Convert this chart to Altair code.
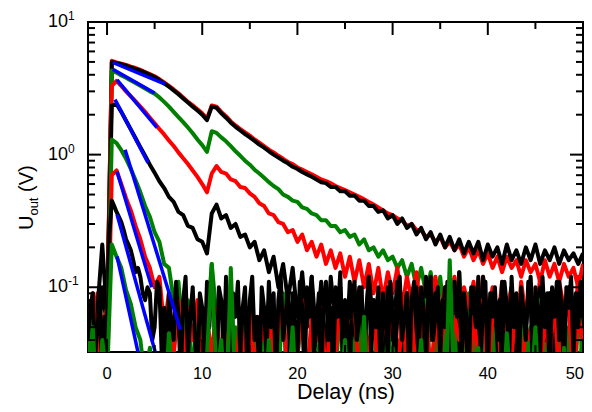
import altair as alt
import pandas as pd

# time grids (ns): 0.5 ns sampling, and 0.25 ns for the lowest black trace
delay = [round(-2 + 0.5 * i, 2) for i in range(105)]
delay_fine = [round(-2 + 0.25 * j, 2) for j in range(209)]

# curves (V), from top (A) to bottom (I)
A_red = [0.07, 0.05, 0.09, 0.04, 0.06, 5.1, 4.95, 4.85, 4.75, 4.6,
         4.5, 4.35, 4.2, 4.05, 3.9, 3.7, 3.5, 3.3, 3.1, 2.9,
         2.7, 2.5, 2.35, 2.2, 2.05, 1.87, 2.35, 2.3, 2.1, 1.95,
         1.78, 1.66, 1.56, 1.47, 1.39, 1.3, 1.23, 1.16, 1.09, 1.04,
         0.98, 0.93, 0.88, 0.85, 0.8, 0.77, 0.74, 0.71, 0.68, 0.65,
         0.63, 0.61, 0.58, 0.56, 0.54, 0.52, 0.5, 0.48, 0.46, 0.44,
         0.42, 0.4, 0.38, 0.36, 0.35, 0.33, 0.32, 0.29, 0.3, 0.27,
         0.27, 0.24, 0.25, 0.22, 0.24, 0.2, 0.22, 0.19, 0.21, 0.17,
         0.2, 0.16, 0.19, 0.15, 0.18, 0.14, 0.17, 0.13, 0.17, 0.14,
         0.16, 0.12, 0.16, 0.13, 0.15, 0.11, 0.16, 0.12, 0.15, 0.11,
         0.15, 0.12, 0.14, 0.1, 0.15]
B_black = [0.05, 0.08, 0.03, 0.1, 0.05, 5.0, 4.9, 4.8, 4.68, 4.55,
           4.43, 4.3, 4.15, 4.0, 3.85, 3.65, 3.45, 3.25, 3.05, 2.85,
           2.65, 2.47, 2.3, 2.15, 2.0, 1.82, 2.3, 2.25, 2.05, 1.9,
           1.74, 1.62, 1.52, 1.43, 1.35, 1.27, 1.19, 1.13, 1.06, 1.0,
           0.95, 0.9, 0.86, 0.81, 0.78, 0.74, 0.71, 0.68, 0.65, 0.62,
           0.61, 0.57, 0.57, 0.53, 0.53, 0.49, 0.49, 0.45, 0.45, 0.41,
           0.41, 0.37, 0.38, 0.33, 0.35, 0.3, 0.33, 0.28, 0.3, 0.25,
           0.28, 0.23, 0.26, 0.21, 0.25, 0.2, 0.24, 0.19, 0.23, 0.18,
           0.22, 0.18, 0.22, 0.16, 0.21, 0.17, 0.2, 0.15, 0.21, 0.16,
           0.19, 0.15, 0.2, 0.16, 0.21, 0.15, 0.19, 0.16, 0.2, 0.15,
           0.19, 0.16, 0.18, 0.15, 0.18]
C_green = [0.04, 0.06, 0.02, 0.05, 0.03, 4.3, 4.15, 3.95, 3.8, 3.62,
           3.47, 3.3, 3.15, 3.0, 2.88, 2.7, 2.5, 2.3, 2.1, 1.92,
           1.76, 1.6, 1.45, 1.3, 1.18, 1.05, 1.5, 1.46, 1.35, 1.26,
           1.16, 1.06, 0.98, 0.9, 0.84, 0.77, 0.72, 0.67, 0.62, 0.58,
           0.55, 0.5, 0.48, 0.45, 0.44, 0.4, 0.39, 0.36, 0.35, 0.32,
           0.32, 0.29, 0.29, 0.26, 0.27, 0.24, 0.25, 0.21, 0.23, 0.19,
           0.2, 0.17, 0.19, 0.16, 0.17, 0.14, 0.16, 0.12, 0.15, 0.1,
           0.14, 0.09, 0.13, 0.07, 0.12, 0.05, 0.11, 0.04, 0.13, 0.03,
           0.09, 0.02, 0.08, 0.03, 0.06, 0.02, 0.07, 0.015, 0.05, 0.02,
           0.06, 0.01, 0.04, 0.02, 0.07, 0.01, 0.05, 0.02, 0.04, 0.01,
           0.06, 0.02, 0.05, 0.01, 0.07]
D_red = [0.06, 0.03, 0.08, 0.05, 0.07, 3.3, 3.6, 3.3, 3.0, 2.75,
         2.52, 2.3, 2.1, 1.9, 1.72, 1.56, 1.42, 1.28, 1.16, 1.04,
         0.94, 0.85, 0.76, 0.68, 0.6, 0.52, 0.72, 0.82, 0.74, 0.72,
         0.65, 0.63, 0.57, 0.56, 0.51, 0.48, 0.43, 0.41, 0.36, 0.35,
         0.31, 0.3, 0.26, 0.27, 0.22, 0.25, 0.19, 0.22, 0.17, 0.21,
         0.15, 0.19, 0.14, 0.18, 0.12, 0.17, 0.11, 0.16, 0.1, 0.15,
         0.09, 0.14, 0.08, 0.13, 0.09, 0.14, 0.07, 0.12, 0.08, 0.13,
         0.06, 0.11, 0.08, 0.12, 0.06, 0.1, 0.07, 0.12, 0.05, 0.1,
         0.07, 0.11, 0.05, 0.12, 0.06, 0.1, 0.05, 0.11, 0.07, 0.1,
         0.04, 0.11, 0.06, 0.1, 0.05, 0.12, 0.06, 0.09, 0.05, 0.11,
         0.07, 0.1, 0.04, 0.12, 0.07]
E_black = [0.08, 0.04, 0.07, 0.21, 0.06, 2.35, 2.4, 2.1, 1.8, 1.55,
           1.33, 1.14, 0.98, 0.84, 0.73, 0.63, 0.56, 0.48, 0.44, 0.37,
           0.35, 0.29, 0.28, 0.23, 0.22, 0.18, 0.36, 0.42, 0.33, 0.35,
           0.28, 0.3, 0.24, 0.25, 0.2, 0.22, 0.16, 0.19, 0.13, 0.17,
           0.1, 0.15, 0.08, 0.14, 0.06, 0.13, 0.05, 0.12, 0.04, 0.11,
           0.03, 0.12, 0.05, 0.1, 0.02, 0.11, 0.04, 0.1, 0.03, 0.12,
           0.05, 0.09, 0.02, 0.1, 0.04, 0.11, 0.03, 0.09, 0.05, 0.1,
           0.02, 0.12, 0.04, 0.09, 0.03, 0.1, 0.05, 0.11, 0.02, 0.09,
           0.04, 0.1, 0.03, 0.12, 0.05, 0.09, 0.02, 0.11, 0.04, 0.1,
           0.03, 0.09, 0.05, 0.12, 0.02, 0.1, 0.04, 0.09, 0.03, 0.11,
           0.05, 0.1, 0.02, 0.09, 0.04]
F_green = [0.03, 0.07, 0.02, 0.06, 0.04, 1.3, 1.22, 1.08, 0.93, 0.78,
           0.64, 0.52, 0.41, 0.34, 0.26, 0.22, 0.15, 0.14, 0.08, 0.11,
           0.04, 0.08, 0.02, 0.07, 0.03, 0.05, 0.15, 0.06, 0.02, 0.07,
           0.01, 0.05, 0.03, 0.08, 0.01, 0.04, 0.02, 0.06, 0.01, 0.05,
           0.02, 0.09, 0.01, 0.04, 0.03, 0.07, 0.01, 0.05, 0.02, 0.06,
           0.01, 0.04, 0.02, 0.08, 0.01, 0.05, 0.03, 0.06, 0.01, 0.04,
           0.02, 0.07, 0.01, 0.05, 0.02, 0.04, 0.01, 0.06, 0.03, 0.05,
           0.01, 0.08, 0.02, 0.04, 0.01, 0.06, 0.02, 0.05, 0.01, 0.07,
           0.02, 0.04, 0.01, 0.06, 0.03, 0.05, 0.01, 0.07, 0.02, 0.04,
           0.01, 0.06, 0.02, 0.05, 0.01, 0.08, 0.02, 0.04, 0.01, 0.06,
           0.02, 0.05, 0.01, 0.07, 0.03]
G_red = [0.05, 0.09, 0.03, 0.06, 0.02, 0.7, 0.76, 0.6, 0.47, 0.38,
         0.29, 0.23, 0.17, 0.14, 0.1, 0.12, 0.05, 0.09, 0.03, 0.08,
         0.02, 0.07, 0.04, 0.08, 0.02, 0.06, 0.03, 0.07, 0.02, 0.05,
         0.08, 0.02, 0.06, 0.03, 0.07, 0.02, 0.06, 0.04, 0.08, 0.02,
         0.05, 0.07, 0.02, 0.06, 0.03, 0.08, 0.02, 0.06, 0.04, 0.07,
         0.02, 0.06, 0.03, 0.08, 0.02, 0.05, 0.07, 0.02, 0.06, 0.03,
         0.08, 0.02, 0.06, 0.04, 0.07, 0.02, 0.06, 0.03, 0.08, 0.02,
         0.05, 0.07, 0.02, 0.06, 0.03, 0.08, 0.02, 0.06, 0.04, 0.07,
         0.02, 0.06, 0.03, 0.08, 0.02, 0.06, 0.07, 0.02, 0.06, 0.03,
         0.08, 0.02, 0.05, 0.04, 0.07, 0.02, 0.06, 0.03, 0.08, 0.02,
         0.06, 0.07, 0.02, 0.06, 0.04]
# lowest black trace, 0.25 ns sampling
H_black = [0.04, 0.07, 0.09, 0.03, 0.05, 0.08, 0.02, 0.06, 0.03, 0.25,
           0.45, 0.41, 0.37, 0.34, 0.31, 0.27, 0.23, 0.21, 0.19, 0.16,
           0.13, 0.14, 0.12, 0.09, 0.08, 0.1, 0.09, 0.04, 0.05, 0.11,
           0.1, 0.03, 0.07, 0.02, 0.09, 0.05, 0.04, 0.11, 0.06, 0.02,
           0.08, 0.12, 0.03, 0.06, 0.1, 0.04, 0.02, 0.09, 0.07, 0.03,
           0.11, 0.05, 0.13, 0.06, 0.02, 0.1, 0.08, 0.03, 0.12, 0.05,
           0.02, 0.09, 0.06, 0.11, 0.03, 0.07, 0.1, 0.02, 0.08, 0.12,
           0.04, 0.06, 0.02, 0.1, 0.07, 0.03, 0.11, 0.05, 0.09, 0.02,
           0.08, 0.12, 0.04, 0.06, 0.1, 0.02, 0.09, 0.05, 0.03, 0.11,
           0.07, 0.02, 0.1, 0.06, 0.12, 0.03, 0.05, 0.09, 0.02, 0.08,
           0.11, 0.04, 0.07, 0.02, 0.1, 0.06, 0.13, 0.03, 0.08, 0.05,
           0.02, 0.09, 0.11, 0.04, 0.06, 0.1, 0.02, 0.07, 0.12, 0.03,
           0.08, 0.05, 0.1, 0.02, 0.09, 0.06, 0.03, 0.11, 0.07, 0.02,
           0.1, 0.12, 0.04, 0.06, 0.09, 0.02, 0.08, 0.11, 0.05, 0.03,
           0.1, 0.07, 0.02, 0.09, 0.12, 0.04, 0.06, 0.1, 0.03, 0.08,
           0.05, 0.11, 0.02, 0.07, 0.1, 0.06, 0.13, 0.03, 0.09, 0.04,
           0.02, 0.1, 0.08, 0.05, 0.12, 0.03, 0.07, 0.11, 0.02, 0.09,
           0.06, 0.1, 0.04, 0.08, 0.02, 0.11, 0.07, 0.03, 0.12, 0.05,
           0.09, 0.02, 0.1, 0.06, 0.04, 0.11, 0.08, 0.02, 0.1, 0.07,
           0.03, 0.12, 0.05, 0.09, 0.02, 0.1, 0.06, 0.11, 0.04, 0.08,
           0.02, 0.1, 0.07, 0.12, 0.03, 0.09, 0.05, 0.11, 0.06]
I_green = [0.02, 0.05, 0.01, 0.04, 0.02, 0.21, 0.17, 0.14, 0.095, 0.075,
           0.05, 0.04, 0.02, 0.035, 0.01, 0.03, 0.01, 0.045, 0.015, 0.02,
           0.01, 0.03, 0.015, 0.02, 0.01, 0.03, 0.15, 0.02, 0.04, 0.01,
           0.14, 0.015, 0.03, 0.01, 0.025, 0.015, 0.02, 0.01, 0.04, 0.015,
           0.01, 0.03, 0.015, 0.05, 0.01, 0.02, 0.015, 0.03, 0.01, 0.02,
           0.015, 0.01, 0.03, 0.015, 0.04, 0.01, 0.02, 0.015, 0.06, 0.01,
           0.03, 0.015, 0.02, 0.01, 0.035, 0.015, 0.025, 0.01, 0.02, 0.015,
           0.04, 0.01, 0.03, 0.015, 0.02, 0.01, 0.16, 0.015, 0.03, 0.01,
           0.02, 0.015, 0.035, 0.01, 0.025, 0.015, 0.02, 0.01, 0.045, 0.015,
           0.03, 0.01, 0.02, 0.015, 0.05, 0.01, 0.025, 0.015, 0.02, 0.01,
           0.035, 0.015, 0.03, 0.01, 0.04]

# exponential fits (straight on the log axis): start/end delay and voltage
fit_t0 = [0.6, 0.6, 1.05, 0.84, 1.9, 1.05, 1.05, 1.05]
fit_t1 = [6.1, 5.0, 5.25, 4.3, 7.7, 4.7, 5.2, 3.4]
fit_v0 = [4.95, 4.4, 3.66, 2.6, 1.09, 0.745, 0.354, 0.171]
fit_v1 = [3.4, 2.92, 1.6, 0.87, 0.048, 0.1, 0.03, 0.029]

x_major = [0, 10, 20, 30, 40, 50]
x_minor = [5, 15, 25, 35, 45]
x_labels = ["0", "10", "20", "30", "40", "50"]
y_major = [0.1, 1, 10]
y_exps = ["-1", "0", "1"]
y_minor = [0.04, 0.05, 0.06, 0.07, 0.08, 0.09,
           0.2, 0.3, 0.4, 0.5, 0.6, 0.7, 0.8, 0.9,
           2, 3, 4, 5, 6, 7, 8, 9]

W, H = 495, 330
FONT = "Liberation Sans"
xs = alt.Scale(domain=[-2, 50], nice=False, zero=False)
ys = alt.Scale(type="log", domain=[0.0325, 10], nice=False)

RED, BLACK, GREEN, BLUE = "#ff0000", "#000000", "#008000", "#0000ff"
series = [(A_red, RED, delay), (B_black, BLACK, delay),
          (C_green, GREEN, delay), (D_red, RED, delay),
          (E_black, BLACK, delay), (F_green, GREEN, delay),
          (G_red, RED, delay), (H_black, BLACK, delay_fine),
          (I_green, GREEN, delay)]

layers = []
for vals, col, grid in series:
    assert len(vals) == len(grid)
    df = pd.DataFrame({"t": grid, "v": vals})
    layers.append(
        alt.Chart(df).mark_line(color=col, strokeWidth=4, clip=True,
                                strokeJoin="round")
        .encode(x=alt.X("t:Q", scale=xs, axis=None),
                y=alt.Y("v:Q", scale=ys, axis=None))
    )

fit_rows = []
for k in range(len(fit_t0)):
    fit_rows.append({"fit": k, "t": fit_t0[k], "v": fit_v0[k]})
    fit_rows.append({"fit": k, "t": fit_t1[k], "v": fit_v1[k]})
fits = alt.Chart(pd.DataFrame(fit_rows)).mark_line(
    color=BLUE, strokeWidth=3.5, clip=True).encode(
    x=alt.X("t:Q", scale=xs, axis=None),
    y=alt.Y("v:Q", scale=ys, axis=None),
    detail="fit:N")
layers.append(fits)


def xticks(vals, length):
    d = pd.DataFrame({"x": vals})
    base = alt.Chart(d).mark_rule(color="black", strokeWidth=2)
    bottom = base.encode(x=alt.X("x:Q", scale=xs, axis=None),
                         y=alt.value(H), y2=alt.value(H - length))
    top = base.encode(x=alt.X("x:Q", scale=xs, axis=None),
                      y=alt.value(0), y2=alt.value(length))
    return [bottom, top]


def yticks(vals, length):
    d = pd.DataFrame({"y": vals})
    base = alt.Chart(d).mark_rule(color="black", strokeWidth=2)
    left = base.encode(y=alt.Y("y:Q", scale=ys, axis=None),
                       x=alt.value(0), x2=alt.value(length))
    right = base.encode(y=alt.Y("y:Q", scale=ys, axis=None),
                        x=alt.value(W), x2=alt.value(W - length))
    return [left, right]


layers += xticks(x_major, 13) + xticks(x_minor, 7)
layers += yticks(y_major, 13) + yticks(y_minor, 7)

# tick labels (the last one is kept inside the page)
xdf = pd.DataFrame({"x": x_major, "lab": x_labels})
xl = alt.Chart(xdf.iloc[:-1]).mark_text(
    font=FONT, fontSize=16.5, baseline="alphabetic", align="center",
    color="black").encode(x=alt.X("x:Q", scale=xs, axis=None),
                          y=alt.value(357), text="lab:N")
xl_last = alt.Chart(xdf.iloc[-1:]).mark_text(
    font=FONT, fontSize=16.5, baseline="alphabetic", align="right",
    color="black").encode(x=alt.value(W + 1), y=alt.value(357),
                          text="lab:N")
ydf = pd.DataFrame({"y": y_major, "e": y_exps, "b": ["10"] * 3})
yl = alt.Chart(ydf).mark_text(
    font=FONT, fontSize=18, baseline="middle", align="right",
    color="black").encode(y=alt.Y("y:Q", scale=ys, axis=None),
                          x=alt.value(-20), text="b:N")
ye = alt.Chart(ydf).mark_text(
    font=FONT, fontSize=12, baseline="middle", align="left", dy=-6,
    color="black").encode(y=alt.Y("y:Q", scale=ys, axis=None),
                          x=alt.value(-20), text="e:N")
layers += [xl, xl_last, yl, ye]

# axis titles
xt = alt.Chart(pd.DataFrame({"s": ["Delay (ns)"]})).mark_text(
    font=FONT, fontSize=21.5, baseline="alphabetic", align="center",
    color="black").encode(x=alt.value(258), y=alt.value(377), text="s:N")
yt_rows = pd.DataFrame({"s": ["U", "out", "(V)"],
                        "px": [-55, -50, -55],
                        "py": [208, 193.6, 170],
                        "fs": [20, 13, 20]})
yt = []
for _, r in yt_rows.iterrows():
    yt.append(alt.Chart(pd.DataFrame({"s": [r["s"]]})).mark_text(
        font=FONT, fontSize=float(r["fs"]), baseline="alphabetic",
        align="left", angle=270, color="black").encode(
        x=alt.value(float(r["px"])), y=alt.value(float(r["py"])),
        text="s:N"))
layers += [xt] + yt

chart = alt.layer(*layers).properties(
    width=W, height=H,
    padding={"left": 80, "top": 14, "right": 1, "bottom": 52},
    autosize=alt.AutoSizeParams(type="none"),
).configure_view(stroke="black", strokeWidth=2)

chart.save("out.html", embed_options={"renderer": "svg", "actions": False})
